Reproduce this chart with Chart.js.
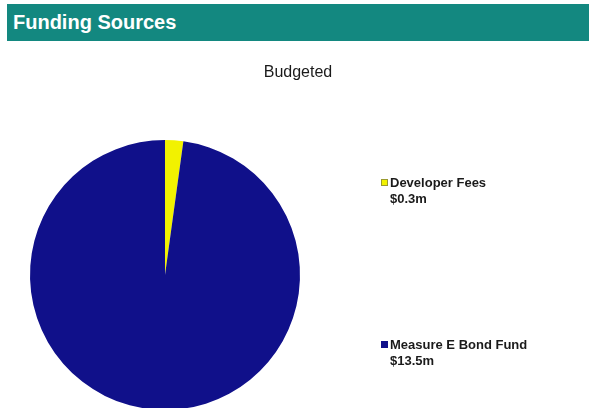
<!DOCTYPE html>
<html><head><meta charset="utf-8">
<script src="https://cdn.jsdelivr.net/npm/chart.js@4"></script>
<style>
html,body{margin:0;padding:0;background:#fff;width:592px;height:408px;overflow:hidden;position:relative;}
#hdr{position:absolute;left:7px;top:4px;width:582px;height:37px;background:#138880;color:#fff;font:bold 20px "Liberation Sans",Arial,sans-serif;line-height:37px;padding-left:6px;box-sizing:border-box;z-index:2;}
#wrap{position:absolute;left:0;top:0;width:592px;height:430px;}
</style></head><body>
<div id="hdr">Funding Sources</div>
<div id="wrap"><canvas id="c"></canvas></div>
<script>
const categories = ["Developer Fees", "Measure E Bond Fund"];
const values = [0.3, 13.5];
const valueLabels = ["$0.3m", "$13.5m"];
const colors = ["#f2f200", "#10108a"];
const chartTitle = "Budgeted";

const textPlugin = {
  id: 'sideLegend',
  afterDraw(chart) {
    const ctx = chart.ctx;
    ctx.save();
    ctx.fillStyle = '#1a1a1a';
    ctx.font = '16px "Liberation Sans", Arial, sans-serif';
    ctx.textAlign = 'center';
    ctx.textBaseline = 'middle';
    ctx.fillText(chartTitle, 298, 73);
    ctx.textAlign = 'left';
    const ys = [183, 345];
    categories.forEach((cat, i) => {
      const y = ys[i];
      ctx.fillStyle = colors[i];
      ctx.fillRect(381, y - 4, 7, 7);
      ctx.strokeStyle = i === 0 ? '#9a9a30' : '#10108a';
      ctx.lineWidth = 1;
      ctx.strokeRect(381.5, y - 3.5, 6, 6);
      ctx.fillStyle = '#1a1a1a';
      ctx.font = 'bold 13px "Liberation Sans", Arial, sans-serif';
      ctx.textBaseline = 'middle';
      ctx.fillText(cat, 390, y);
      ctx.fillText(valueLabels[i], 390, y + 16);
    });
    ctx.restore();
  }
};

new Chart(document.getElementById('c'), {
  type: 'pie',
  data: {
    labels: categories,
    datasets: [{ data: values, backgroundColor: colors, borderWidth: 0 }]
  },
  options: {
    responsive: true,
    maintainAspectRatio: false,
    animation: false,
    layout: { padding: { left: 30, right: 292, top: 140, bottom: 20 } },
    plugins: {
      legend: { display: false },
      tooltip: { enabled: false },
      title: { display: false }
    }
  },
  plugins: [textPlugin]
});
</script>
</body></html>
